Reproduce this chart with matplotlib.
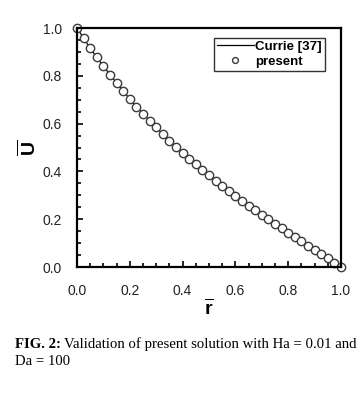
import matplotlib.pyplot as plt
import matplotlib as mpl
from matplotlib.ticker import MultipleLocator

mpl.rcParams['font.family'] = ['Liberation Sans', 'DejaVu Sans']
mpl.rcParams['mathtext.fontset'] = 'custom'
mpl.rcParams['mathtext.rm'] = 'Liberation Sans:bold'
mpl.rcParams['mathtext.it'] = 'Liberation Sans:bold'
mpl.rcParams['mathtext.bf'] = 'Liberation Sans:bold'

# radial position and velocity
r_vals = [0.000, 0.025, 0.050, 0.075, 0.100, 0.125, 0.150, 0.175, 0.200, 0.225,
          0.250, 0.275, 0.300, 0.325, 0.350, 0.375, 0.400, 0.425, 0.450, 0.475,
          0.500, 0.525, 0.550, 0.575, 0.600, 0.625, 0.650, 0.675, 0.700, 0.725,
          0.750, 0.775, 0.800, 0.825, 0.850, 0.875, 0.900, 0.925, 0.950, 0.975,
          1.000]
u_currie = [1.000, 0.958, 0.915, 0.877, 0.840, 0.805, 0.770, 0.736, 0.703, 0.671,
            0.641, 0.612, 0.584, 0.556, 0.529, 0.503, 0.478, 0.453, 0.429, 0.406,
            0.383, 0.361, 0.339, 0.318, 0.297, 0.277, 0.257, 0.237, 0.218, 0.199,
            0.180, 0.162, 0.144, 0.126, 0.108, 0.090, 0.072, 0.054, 0.036, 0.018,
            0.000]
u_present = u_currie
tick_labels = ['0.0', '0.2', '0.4', '0.6', '0.8', '1.0']

fig = plt.figure(figsize=(3.62, 3.99), dpi=100)
ax = fig.add_axes([0.2127, 0.3308, 0.7293, 0.599])

ax.plot(r_vals, u_currie, color='black', lw=0.9, label='Currie [37]')
ax.plot(r_vals, u_present, ls='none', marker='o', ms=6, mfc='white',
        mec='#3a3a3a', mew=1.0, label='present', clip_on=False)

ax.set_xlim(0, 1)
ax.set_ylim(0, 1)
ticks = [float(t) for t in tick_labels]
ax.set_xticks(ticks)
ax.set_yticks(ticks)
ax.set_xticklabels(tick_labels)
ax.set_yticklabels(tick_labels)
ax.xaxis.set_minor_locator(MultipleLocator(0.05))
ax.yaxis.set_minor_locator(MultipleLocator(0.05))
ax.tick_params(which='both', direction='in', top=False, right=False,
               labelsize=10, labelcolor='#222222', width=1.2)
ax.tick_params(which='major', length=4)
ax.tick_params(axis='y', which='major', pad=11)
ax.tick_params(axis='x', which='major', pad=12)
ax.tick_params(which='minor', length=3)
for s in ax.spines.values():
    s.set_linewidth(1.6)

ax.set_xlabel(r'$\overline{\mathrm{r}}$', fontsize=14, labelpad=0)
ax.set_ylabel(r'$\overline{\mathrm{U}}$', fontsize=14, labelpad=2)

leg = ax.legend(loc='upper right', bbox_to_anchor=(0.94, 0.96), frameon=True,
                fancybox=False, edgecolor='black', handlelength=2.8,
                handletextpad=0.1, borderpad=0.25, labelspacing=0.2,
                borderaxespad=0, prop={'weight': 'bold', 'size': 9.5},
                markerscale=0.7)
leg.get_frame().set_linewidth(1.0)

# caption: bold prefix followed by regular text
cap_size = 10.6
t1 = fig.text(0.041, 0.128, 'FIG. 2:', family='Liberation Serif', weight='bold',
              fontsize=cap_size, va='baseline')
fig.canvas.draw()
bb = t1.get_window_extent()
x_next = (bb.x1 + 3) / fig.bbox.width
fig.text(x_next, 0.128, 'Validation of present solution with Ha = 0.01 and',
         family='Liberation Serif', fontsize=cap_size, va='baseline')
fig.text(0.041, 0.085, 'Da = 100', family='Liberation Serif', fontsize=cap_size,
         va='baseline')

fig.savefig('out.png', dpi=100)
